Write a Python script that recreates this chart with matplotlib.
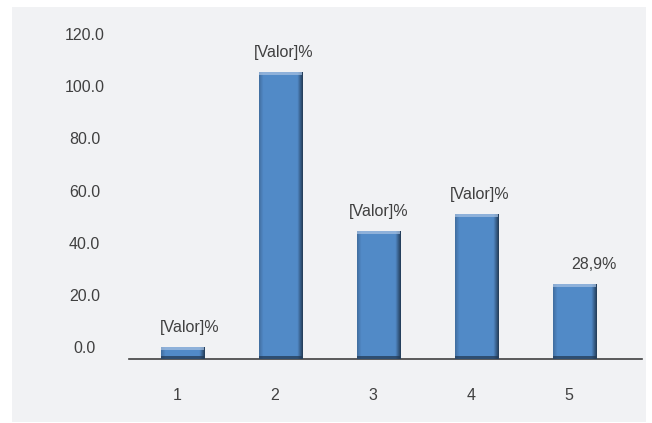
import matplotlib
matplotlib.use("Agg")
import matplotlib.pyplot as plt
import matplotlib.transforms as mtransforms
from matplotlib.patches import Rectangle
import numpy as np

categories = ["1", "2", "3", "4", "5"]
values = [4.5, 110.5, 49.3, 55.8, 28.9]
value_labels = ["[Valor]%", "[Valor]%", "[Valor]%", "[Valor]%", "28,9%"]
y_ticks = [0, 20, 40, 60, 80, 100, 120]
y_tick_labels = ["0.0", "20.0", "40.0", "60.0", "80.0", "100.0", "120.0"]

plt.rcParams['font.family'] = ['Liberation Sans Narrow', 'Liberation Sans', 'DejaVu Sans']

W, H = 652, 423
fig = plt.figure(figsize=(W / 100, H / 100), dpi=100)
fig.patch.set_facecolor("white")

# grey panel
bg = fig.add_axes([12 / W, 1 - 422 / H, (646 - 12) / W, (422 - 7) / H], zorder=-5)
bg.set_facecolor("#f1f2f4")
bg.set_xticks([]); bg.set_yticks([])
for s in bg.spines.values():
    s.set_visible(False)

ax = fig.add_axes([129 / W, (H - 359) / H, (642 - 129) / W, (359 - 8) / H], zorder=1)
ax.set_facecolor("none")

x = np.arange(1, len(categories) + 1)
bars = ax.bar(x + 0.06, values, width=0.44, color="#5189c6", zorder=2)

# shading gradient for a soft 3D look
grad = np.linspace(0, 1, 64)
prof = np.where(grad < 0.1, 0.78 + grad * 2.0, np.where(grad > 0.88, 0.97 - (grad - 0.88) * 4.5, 0.97))
cols = np.array([0x51, 0x89, 0xc6]) / 255.0
img = np.clip(cols[None, None, :] * prof[None, :, None] * 1.04, 0, 1)
for b in bars:
    x0, y0 = b.get_x(), b.get_y()
    w, h = b.get_width(), b.get_height()
    im = ax.imshow(img, extent=(x0, x0 + w, y0, y0 + h), aspect="auto", zorder=3,
                   interpolation="bilinear")
    im.set_clip_path(b)
    ax.add_patch(Rectangle((x0, y0), w, min(1.2, h * 0.3), facecolor="#233a55",
                           alpha=0.75, edgecolor="none", zorder=4))
    ax.add_patch(Rectangle((x0, y0 + h - min(1.2, h * 0.3)), w, min(1.2, h * 0.3),
                           facecolor="#a9c3e3", alpha=0.7, edgecolor="none", zorder=4))

label_dx = [5, 2, 0, 2, 14]
for xi, v, lab, dx in zip(x, values, value_labels, label_dx):
    ax.annotate(lab, (xi + 0.06, v), xytext=(dx, 14), textcoords="offset points",
                ha="center", va="center", fontsize=11.5, color="#404040", zorder=5)

ax.set_xlim(0.51, 5.745)
ax.set_ylim(0, 135)
ax.set_xticks(x)
ax.set_xticklabels(categories)
ax.set_yticks(y_ticks)
ax.set_yticklabels(y_tick_labels)
ax.tick_params(axis="both", length=0, labelsize=11.5, labelcolor="#404040")
ax.tick_params(axis="x", pad=21)
ax.tick_params(axis="y", pad=32)
offset = mtransforms.ScaledTranslation(0, 9 / 72, fig.dpi_scale_trans)
for lbl in ax.get_yticklabels():
    lbl.set_horizontalalignment("center")
    lbl.set_transform(lbl.get_transform() + offset)

for s in ["top", "right", "left"]:
    ax.spines[s].set_visible(False)
ax.spines["bottom"].set_color("#404040")
ax.spines["bottom"].set_linewidth(1.2)

fig.savefig("out.png", dpi=100, facecolor="white")
